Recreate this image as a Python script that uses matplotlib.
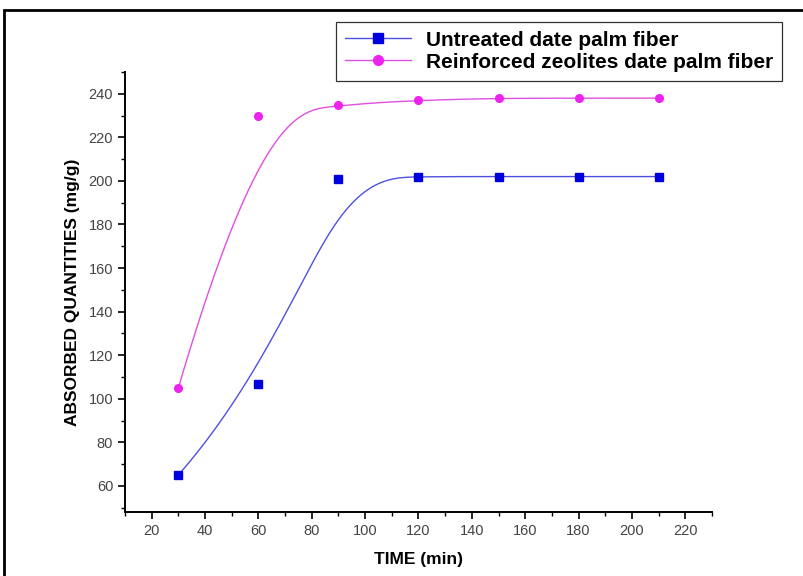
import numpy as np
import matplotlib
matplotlib.use('Agg')
import matplotlib.pyplot as plt
from matplotlib.patches import Rectangle
from matplotlib.ticker import MultipleLocator

plt.rcParams['font.family'] = ['Liberation Sans', 'DejaVu Sans']

time_min = [30, 60, 90, 120, 150, 180, 210]
untreated = [65, 107, 201, 202, 202, 202, 202]
reinforced = [105, 230, 235, 237, 238, 238, 238]
labels = ['Untreated date palm fiber', 'Reinforced zeolites date palm fiber']


def bspline(xs, ys, n=300):
    # clamped cubic B-spline, control points = data points (Origin style)
    P = np.column_stack([xs, ys]).astype(float)
    k = 3
    m = len(P)
    inner = np.arange(1, m - k)
    knots = np.concatenate([np.zeros(k + 1), inner, np.full(k + 1, m - k)]).astype(float)
    ts = np.linspace(0, m - k, n)
    out = []
    for t in ts:
        if t >= knots[-1]:
            out.append(P[-1])
            continue
        s = np.searchsorted(knots, t, side='right') - 1
        d = [P[j + s - k].copy() for j in range(k + 1)]
        for r in range(1, k + 1):
            for j in range(k, r - 1, -1):
                i = j + s - k
                a = (t - knots[i]) / (knots[i + 1 + k - r] - knots[i])
                d[j] = (1 - a) * d[j - 1] + a * d[j]
        out.append(d[k])
    out = np.array(out)
    return out[:, 0], out[:, 1]


fig = plt.figure(figsize=(8.04, 5.76), dpi=100)
ax = fig.add_axes([0.1555, 0.111, 0.730, 0.764])

bx, by = bspline(time_min, untreated)
mx, my = bspline(time_min, reinforced)
ax.plot(bx, by, color='#5050e0', lw=1.0)
ax.plot(mx, my, color='#e050e0', lw=1.0)
ax.plot(time_min, untreated, 's', color='#0000dd', ms=5.5, ls='none')
ax.plot(time_min, reinforced, 'o', color='#ee22ee', ms=5.5, ls='none')

# legend proxies: line + marker
h1, = ax.plot([], [], '-s', color='#5050e0', mfc='#0000dd', mec='#0000dd', ms=7, lw=1.0)
h2, = ax.plot([], [], '-o', color='#e050e0', mfc='#ee22ee', mec='#ee22ee', ms=7, lw=1.0)
leg = fig.legend([h1, h2], labels, loc='upper left', bbox_to_anchor=(0.418, 0.962),
                 bbox_transform=fig.transFigure, borderaxespad=0, fancybox=False,
                 edgecolor='#333333', framealpha=1, prop={'weight': 'bold', 'size': 15},
                 handlelength=3.2, borderpad=0.42, labelspacing=0.15, handletextpad=0.7)
leg.get_frame().set_linewidth(0.9)

ax.set_xlim(10, 230)
ax.set_ylim(48, 250)
ax.xaxis.set_major_locator(MultipleLocator(20))
ax.xaxis.set_minor_locator(MultipleLocator(10))
ax.yaxis.set_major_locator(MultipleLocator(20))
ax.yaxis.set_minor_locator(MultipleLocator(10))
ax.spines['top'].set_visible(False)
ax.spines['right'].set_visible(False)
for sp in ('left', 'bottom'):
    ax.spines[sp].set_linewidth(1.4)
ax.tick_params(which='major', direction='out', length=5, width=1.2,
               labelsize=10.5, labelcolor='#444444')
ax.tick_params(which='minor', direction='out', length=3, width=1.0)

ax.set_xlabel('TIME (min)', fontsize=12.5, fontweight='bold', labelpad=10)
ax.set_ylabel('ABSORBED QUANTITIES (mg/g)', fontsize=12.5, fontweight='bold', labelpad=6)

fig.patches.append(Rectangle((0.005, -0.05), 1.1, 1.032, transform=fig.transFigure,
                             fill=False, edgecolor='black', lw=2.0))

fig.savefig('out.png', dpi=100)
